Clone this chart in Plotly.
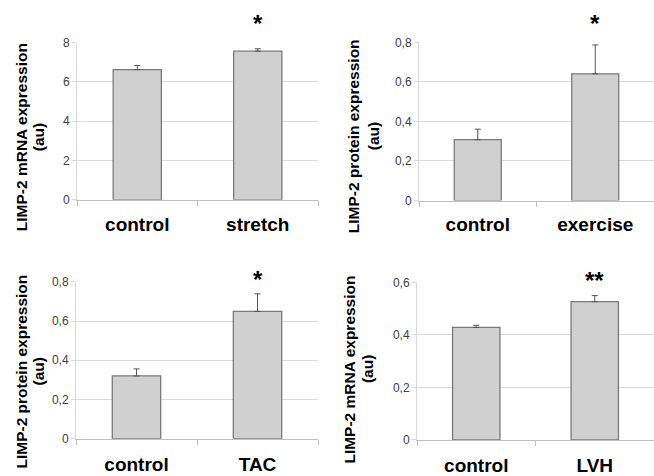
import plotly.graph_objects as go

# ---------------- data ----------------
cats_stretch = ["control", "stretch"]
vals_stretch = [6.63, 7.57]
errs_stretch = [0.21, 0.12]
yt_stretch = [0, 2, 4, 6, 8]
ytl_stretch = ["0", "2", "4", "6", "8"]

cats_exercise = ["control", "exercise"]
vals_exercise = [0.308, 0.641]
errs_exercise = [0.053, 0.146]

cats_tac = ["control", "TAC"]
vals_tac = [0.320, 0.649]
errs_tac = [0.036, 0.090]

yt_protein = [0, 0.2, 0.4, 0.6, 0.8]
ytl_protein = ["0", "0,2", "0,4", "0,6", "0,8"]

cats_lvh = ["control", "LVH"]
vals_lvh = [0.429, 0.527]
errs_lvh = [0.008, 0.023]
yt_lvh = [0, 0.2, 0.4, 0.6]
ytl_lvh = ["0", "0,2", "0,4", "0,6"]

title_mrna = "LIMP-2 mRNA expression"
title_protein = "LIMP-2 protein expression"
title_unit = "(au)"
sig = ["*", "*", "*", "**"]

# ---------------- layout helpers ----------------
W, H = 654, 476
FONT = "Arial, Liberation Sans, sans-serif"


def px(x):
    return x / W


def py(y):
    return 1 - y / H


panels = [
    # cats, vals, errs, tickvals, ticktext, yrange, xdom(px), ydom(px bottom, top),
    # title, title centre y, line1 x, line2 x, star shift, label standoff
    (cats_stretch, vals_stretch, errs_stretch, yt_stretch, ytl_stretch, [0, 8],
     (77, 318), (200, 37), title_mrna, 135, 21, 38, 19, 7),
    (cats_exercise, vals_exercise, errs_exercise, yt_protein, ytl_protein, [0, 0.8],
     (419, 654), (200.7, 36.7), title_protein, 134, 353, 373, 19, 7),
    (cats_tac, vals_tac, errs_tac, yt_protein, ytl_protein, [0, 0.8],
     (76, 318), (447.7, 285), title_protein, 378, 21, 38, 2, 8),
    (cats_lvh, vals_lvh, errs_lvh, yt_lvh, ytl_lvh, [0, 0.6],
     (417, 654), (449, 285.7), title_mrna, 376, 350, 367.5, 2, 8),
]

fig = go.Figure()
annotations = []

for i, (cats, vals, errs, tv, tt, yr, xd, yd, ttl, tcy, l1x, l2x, sshift, stand) in enumerate(panels):
    n = "" if i == 0 else str(i + 1)
    fig.add_trace(go.Bar(
        x=cats, y=vals, width=0.4,
        marker=dict(color="#d0d0d0", line=dict(color="#7a7a7a", width=1.3)),
        error_y=dict(type="data", array=errs, arrayminus=[0] * len(errs), symmetric=False,
                     color="#555555", thickness=1, width=3),
        xaxis="x" + n, yaxis="y" + n, showlegend=False,
    ))
    fig.layout["xaxis" + n] = dict(
        domain=[px(xd[0]), px(xd[1])], anchor="y" + n, type="category",
        range=[-0.5, 1.5], showline=True, linecolor="#bfbfbf", linewidth=1,
        ticks="outside", tickson="boundaries", ticklen=5, tickcolor="#bfbfbf",
        showgrid=False, ticklabelstandoff=stand,
        tickfont=dict(family=FONT, size=19, color="#000000", weight="bold"),
    )
    fig.layout["yaxis" + n] = dict(
        domain=[py(yd[0]), py(yd[1])], anchor="x" + n, range=yr,
        tickvals=tv, ticktext=tt, showline=True, linecolor="#d9d9d9", linewidth=1,
        ticks="outside", ticklen=4, tickcolor="#d9d9d9",
        showgrid=True, gridcolor="#dcdcdc", gridwidth=1, zeroline=False,
        tickfont=dict(family=FONT, size=12, color="#404040"),
    )
    # y-axis title, two lines
    annotations.append(dict(text=ttl, textangle=-90, xref="paper", yref="paper",
                            x=px(l1x), y=py(tcy), xanchor="center", yanchor="middle",
                            showarrow=False,
                            font=dict(family=FONT, size=15.5, color="#000000", weight="bold")))
    annotations.append(dict(text=title_unit, textangle=-90, xref="paper", yref="paper",
                            x=px(l2x), y=py(tcy), xanchor="center", yanchor="middle",
                            showarrow=False,
                            font=dict(family=FONT, size=15.5, color="#000000", weight="bold")))
    # significance marker above second bar
    annotations.append(dict(text=sig[i], xref="x" + n, yref="y" + n + " domain",
                            x=cats[1], y=1, yshift=sshift, xanchor="center", yanchor="middle",
                            showarrow=False,
                            font=dict(family=FONT, size=24, color="#000000", weight="bold")))

fig.update_layout(
    width=W, height=H, margin=dict(l=0, r=0, t=0, b=0),
    paper_bgcolor="white", plot_bgcolor="white",
    annotations=annotations, bargap=0.6,
)

fig.write_html("out.html",
               config={"displayModeBar": False},
               post_script="document.body.style.margin='0';document.body.style.overflow='hidden';")
